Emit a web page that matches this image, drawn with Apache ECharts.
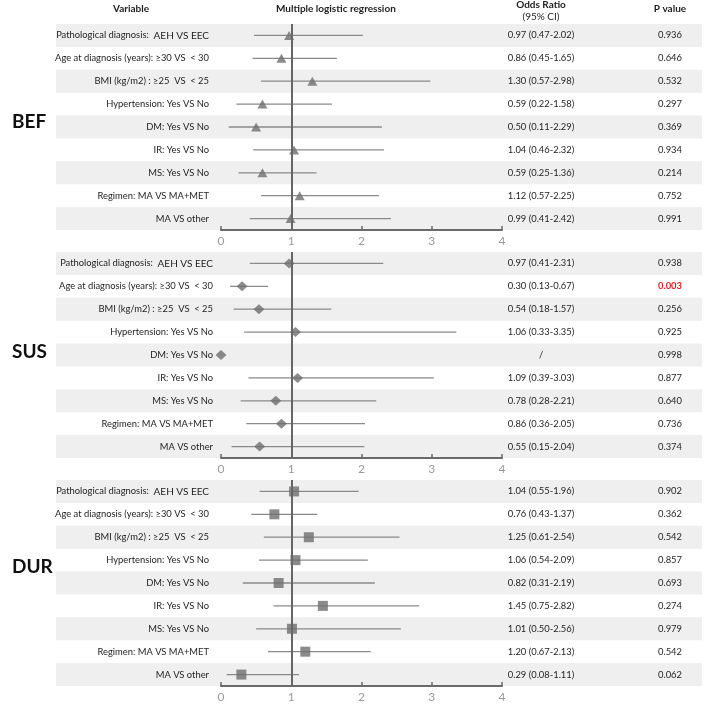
<!DOCTYPE html>
<html><head><meta charset="utf-8">
<script src="https://cdn.jsdelivr.net/npm/echarts@6/dist/echarts.min.js"></script>
<style>html,body{margin:0;padding:0;background:#fff}#c{width:709px;height:704px}</style>
</head><body><div id="c"></div>
<script>
const categories = [
  'Pathological diagnosis:  AEH VS EEC',
  'Age at diagnosis (years): \u226530 VS  < 30',
  'BMI (kg/m2) : \u226525  VS  < 25',
  'Hypertension: Yes VS No',
  'DM: Yes VS No',
  'IR: Yes VS No',
  'MS: Yes VS No',
  'Regimen: MA VS MA+MET',
  'MA VS other'
];
const sectionNames = ['BEF', 'SUS', 'DUR'];
const xTicks = [0, 1, 2, 3, 4];

const befOR = [0.97, 0.86, 1.30, 0.59, 0.50, 1.04, 0.59, 1.12, 0.99];
const befLo = [0.47, 0.45, 0.57, 0.22, 0.11, 0.46, 0.25, 0.57, 0.41];
const befHi = [2.02, 1.65, 2.98, 1.58, 2.29, 2.32, 1.36, 2.25, 2.42];
const befP  = ['0.936', '0.646', '0.532', '0.297', '0.369', '0.934', '0.214', '0.752', '0.991'];

const susOR = [0.97, 0.30, 0.54, 1.06, 0, 1.09, 0.78, 0.86, 0.55];
const susLo = [0.41, 0.13, 0.18, 0.33, null, 0.39, 0.28, 0.36, 0.15];
const susHi = [2.31, 0.67, 1.57, 3.35, null, 3.03, 2.21, 2.05, 2.04];
const susP  = ['0.938', '0.003', '0.256', '0.925', '0.998', '0.877', '0.640', '0.736', '0.374'];
const susORText = [null, null, null, null, '/', null, null, null, null];

const durOR = [1.04, 0.76, 1.25, 1.06, 0.82, 1.45, 1.01, 1.20, 0.29];
const durLo = [0.55, 0.43, 0.61, 0.54, 0.31, 0.75, 0.50, 0.67, 0.08];
const durHi = [1.96, 1.37, 2.54, 2.09, 2.19, 2.82, 2.56, 2.13, 1.11];
const durP  = ['0.902', '0.362', '0.542', '0.857', '0.693', '0.274', '0.979', '0.542', '0.062'];

const FONT = 'Lato';
const TXT = '#1e1e1e';
const FS = 9.4;

const sections = [
  {name: 'BEF', or: befOR, lo: befLo, hi: befHi, p: befP, orText: [], symbol: 'triangle', size: [10, 9], top: 24, labelY: 122, margin: 12},
  {name: 'SUS', or: susOR, lo: susLo, hi: susHi, p: susP, orText: susORText, symbol: 'diamond', size: [11, 10], top: 252, labelY: 352, margin: 8},
  {name: 'DUR', or: durOR, lo: durLo, hi: durHi, p: durP, orText: [], symbol: 'rect', size: [10, 10], top: 480, labelY: 567, margin: 12}
];
const H = 206;

function fmtOR(s, i) {
  if (s.orText[i]) return s.orText[i];
  return s.or[i].toFixed(2) + ' (' + s.lo[i].toFixed(2) + '-' + s.hi[i].toFixed(2) + ')';
}

const grid = [], xAxis = [], yAxis = [], series = [];
sections.forEach((s, k) => {
  grid.push({left: 221, right: 207, top: s.top, height: H});
  xAxis.push({
    type: 'value', gridIndex: k, min: 0, max: 4, interval: 1, z: 10,
    axisLine: {show: true, lineStyle: {color: '#6a6a6a', width: 2}},
    axisTick: {show: true, inside: true, length: 4, lineStyle: {color: '#6a6a6a', width: 1.5}},
    axisLabel: {color: '#9a9a9a', fontSize: 12, fontFamily: FONT, margin: 5},
    splitLine: {show: false}
  });
  yAxis.push({
    type: 'category', gridIndex: k, data: categories, inverse: true, z: 10,
    axisLine: {show: false}, axisTick: {show: false}, splitLine: {show: false},
    axisLabel: {
      color: TXT, fontSize: FS, fontFamily: FONT, margin: s.margin,
      formatter: function (v) {
        const m = v.match(/^(Pathological diagnosis:\s+)(AEH VS EEC)$/);
        return m ? m[1] + '{b|' + m[2] + '}' : v;
      },
      rich: {b: {fontSize: 10, fontFamily: FONT, color: TXT}}
    }
  });
  // bands + OR text + P text
  series.push({
    type: 'custom', xAxisIndex: k, yAxisIndex: k, z: 1, silent: true,
    data: categories.map((c, i) => [0, i]),
    renderItem: function (params, api) {
      const i = params.dataIndex;
      const y = api.coord([0, i])[1];
      const h = api.size([0, 1])[1];
      const children = [];
      if (i % 2 === 0) {
        children.push({type: 'rect', shape: {x: 56, y: y - h / 2, width: 646, height: h}, style: {fill: '#efefef'}});
      }
      children.push({type: 'text', style: {x: 541, y: y, text: fmtOR(s, i), fill: TXT, font: FS + 'px ' + FONT, textAlign: 'center', textVerticalAlign: 'middle'}});
      const red = (s.name === 'SUS' && i === 1);
      children.push({type: 'text', style: {x: 670, y: y, text: s.p[i], fill: red ? '#e8202a' : TXT, font: (red ? 'bold ' : '') + FS + 'px ' + FONT, textAlign: 'center', textVerticalAlign: 'middle'}});
      return {type: 'group', children: children};
    }
  });
  // error bars
  series.push({
    type: 'custom', xAxisIndex: k, yAxisIndex: k, z: 3, silent: true,
    data: categories.map((c, i) => [s.lo[i] == null ? 0 : s.lo[i], i]),
    renderItem: function (params, api) {
      const i = params.dataIndex;
      if (s.lo[i] == null) return null;
      const a = api.coord([s.lo[i], i]);
      const b = api.coord([s.hi[i], i]);
      return {type: 'line', shape: {x1: a[0], y1: a[1], x2: b[0], y2: b[1]}, style: {stroke: '#8a8a8a', lineWidth: 1.3}};
    }
  });
  // markers
  series.push({
    type: 'scatter', xAxisIndex: k, yAxisIndex: k, z: 4, silent: true,
    symbol: s.symbol, symbolSize: s.size,
    itemStyle: {color: '#6e6e6e'},
    data: s.or.map((v, i) => [v, i]),
    markLine: {
      silent: true, symbol: 'none', label: {show: false}, animation: false,
      lineStyle: {color: '#666666', width: 2, type: 'solid'},
      data: [{xAxis: 1}]
    }
  });
});

const graphic = [
  {type: 'text', left: 113, top: 4, style: {text: 'Variable', font: 'bold 10px ' + FONT, fill: TXT}},
  {type: 'text', left: 276, top: 4, style: {text: 'Multiple logistic regression', font: 'bold 10px ' + FONT, fill: TXT}},
  {type: 'text', x: 541, y: 0, style: {text: 'Odds Ratio', font: 'bold 10px ' + FONT, fill: TXT, textAlign: 'center'}},
  {type: 'text', x: 541, y: 12, style: {text: '(95% CI)', font: '10px ' + FONT, fill: TXT, textAlign: 'center'}},
  {type: 'text', x: 670, y: 4, style: {text: 'P value', font: 'bold 10px ' + FONT, fill: TXT, textAlign: 'center'}}
];
sections.forEach(s => {
  graphic.push({type: 'text', x: 12, y: s.labelY, style: {text: s.name, font: 'bold 19px ' + FONT, fill: '#111', textVerticalAlign: 'middle'}});
});

const chart = echarts.init(document.getElementById('c'), null, {renderer: 'canvas'});
chart.setOption({
  animation: false,
  backgroundColor: '#ffffff',
  grid: grid, xAxis: xAxis, yAxis: yAxis, series: series, graphic: graphic
});
</script>
</body></html>
